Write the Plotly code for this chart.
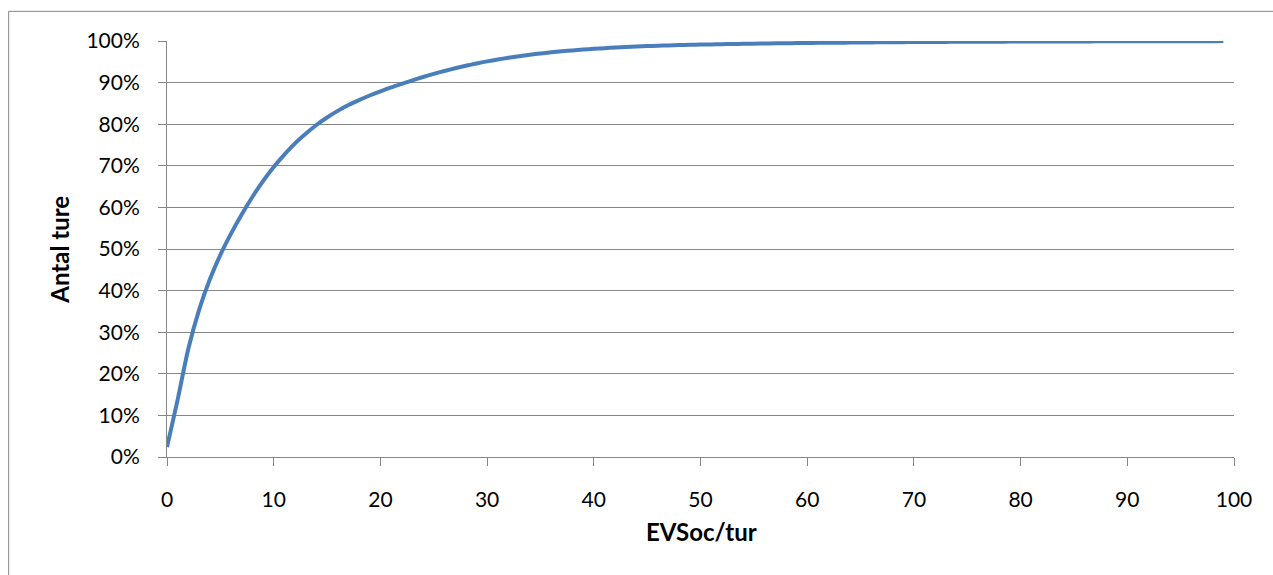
import plotly.graph_objects as go

# Data
evsoc_per_tur = list(range(0, 100))
antal_ture_pct = [
    2.4, 13.8, 26.0, 35.3, 42.6, 48.6, 53.7, 58.3, 62.5, 66.3,
    69.7, 72.7, 75.4, 77.7, 79.8, 81.6, 83.2, 84.6, 85.8, 86.9,
    87.9, 88.85, 89.7, 90.55, 91.35, 92.1, 92.8, 93.45, 94.05, 94.6,
    95.1, 95.55, 95.97, 96.35, 96.7, 97.0, 97.27, 97.52, 97.74, 97.94,
    98.12, 98.28, 98.42, 98.55, 98.67, 98.77, 98.86, 98.94, 99.01, 99.07,
    99.13, 99.18, 99.23, 99.28, 99.32, 99.36, 99.4, 99.43, 99.46, 99.49,
    99.52, 99.55, 99.57, 99.59, 99.62, 99.64, 99.66, 99.68, 99.7, 99.72,
    99.74, 99.75, 99.77, 99.78, 99.8, 99.81, 99.82, 99.83, 99.84, 99.85,
    99.86, 99.87, 99.88, 99.885, 99.89, 99.9, 99.905, 99.91, 99.915, 99.92,
    99.925, 99.93, 99.935, 99.94, 99.945, 99.95, 99.955, 99.96, 99.965, 99.97,
]
x_ticks = list(range(0, 101, 10))
y_ticks = list(range(0, 101, 10))
y_tick_labels = ["0%", "10%", "20%", "30%", "40%", "50%", "60%", "70%", "80%", "90%", "100%"]
x_title = "EVSoc/tur"
y_title = "Antal ture"

GRID = "#868686"
FONT = "Lato, 'Open Sans', sans-serif"

fig = go.Figure()
fig.add_trace(go.Scatter(
    x=evsoc_per_tur, y=antal_ture_pct, mode="lines",
    line=dict(color="#4A7EBB", width=4, shape="spline", smoothing=0.8),
    hoverinfo="x+y", showlegend=False,
))

fig.update_layout(
    width=1273, height=575,
    margin=dict(l=167, r=39, t=41, b=118, pad=0),
    paper_bgcolor="white", plot_bgcolor="white",
    font=dict(family=FONT, color="black", size=21),
    xaxis=dict(
        range=[0, 100], tickvals=x_ticks, showgrid=False, zeroline=False,
        showline=True, linecolor=GRID, linewidth=1,
        ticks="outside", ticklen=8, tickcolor=GRID, tickwidth=1,
        tickfont=dict(size=21, family=FONT, color="black"),
        ticklabelstandoff=16,
    ),
    yaxis=dict(
        range=[0, 100], tickvals=y_ticks, ticktext=y_tick_labels,
        showgrid=True, gridcolor=GRID, gridwidth=1, zeroline=False,
        showline=True, linecolor=GRID, linewidth=1,
        ticks="outside", ticklen=8, tickcolor=GRID, tickwidth=1,
        tickfont=dict(size=21, family=FONT, color="black"),
        ticklabelstandoff=14,
    ),
    annotations=[
        dict(text=x_title, xref="paper", yref="paper", x=0.501, y=-0.1786,
             showarrow=False, xanchor="center", yanchor="middle",
             font=dict(size=24, family=FONT, color="black", weight="bold")),
        dict(text=y_title, xref="paper", yref="paper", x=-0.1006, y=0.4976,
             showarrow=False, xanchor="center", yanchor="middle", textangle=-90,
             font=dict(size=24, family=FONT, color="black", weight="bold")),
    ],
    shapes=[
        dict(type="rect", xref="paper", yref="paper",
             x0=-0.1484, x1=1.06, y0=-0.32, y1=1.0713,
             line=dict(color=GRID, width=1), fillcolor="rgba(0,0,0,0)", layer="below"),
    ],
)

fig.write_html("out.html")
